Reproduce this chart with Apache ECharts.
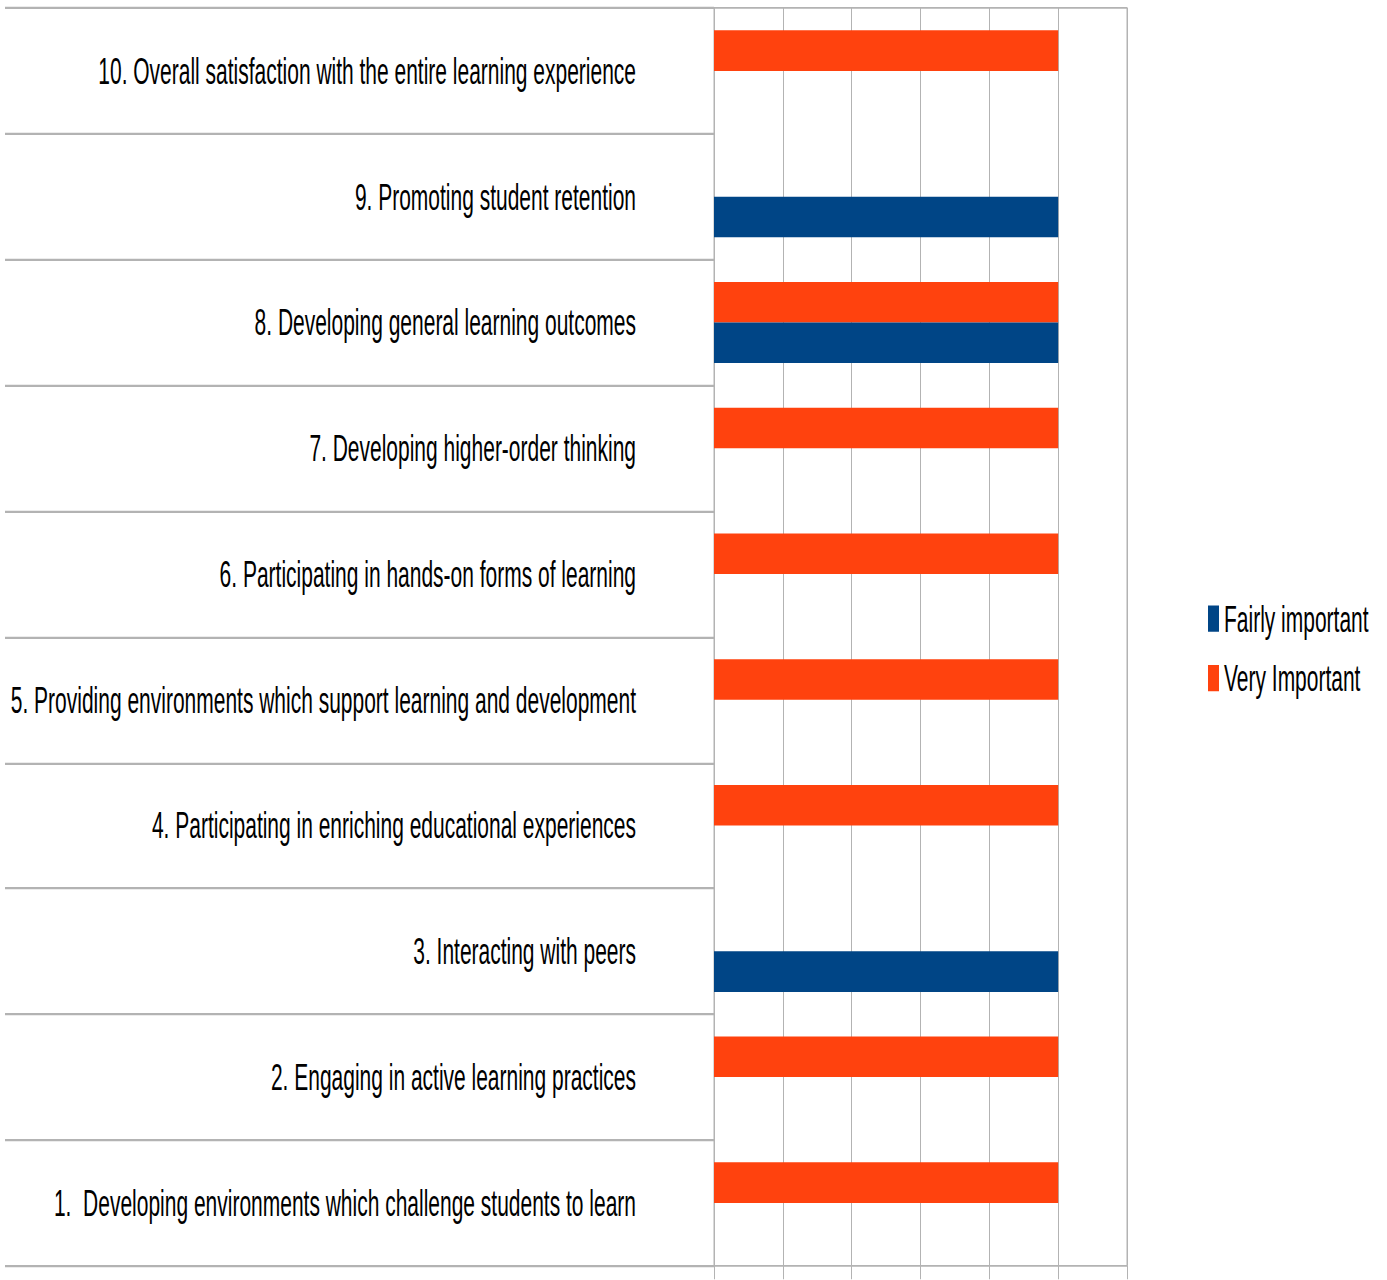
<!DOCTYPE html>
<html>
<head>
<meta charset="utf-8">
<script src="https://cdn.jsdelivr.net/npm/echarts@6/dist/echarts.min.js"></script>
<style>
  html, body { margin: 0; padding: 0; background: #ffffff; overflow: hidden; }
  #wrap { width: 1387px; height: 1280px; overflow: hidden; position: relative; }
  #chart { width: 1387px; height: 731.43px; transform: scale(1, 1.75); transform-origin: 0 0; }
</style>
</head>
<body>
<div id="wrap"><div id="chart"></div></div>
<script>
const categories = [
  '1.  Developing environments which challenge students to learn',
  '2. Engaging in active learning practices',
  '3. Interacting with peers',
  '4. Participating in enriching educational experiences',
  '5. Providing environments which support learning and development',
  '6. Participating in hands-on forms of learning',
  '7. Developing higher-order thinking',
  '8. Developing general learning outcomes',
  '9. Promoting student retention',
  '10. Overall satisfaction with the entire learning experience'
];
const seriesNames = ['Fairly important', 'Very Important'];
const fairlyImportant = [0, 0, 5, 0, 0, 0, 0, 5, 5, 0];
const veryImportant = [5, 5, 0, 5, 5, 5, 5, 5, 0, 5];

const FONT = "'Liberation Sans', Arial, sans-serif";
const GRID = '#b3b3b3';

const chart = echarts.init(document.getElementById('chart'), null, { renderer: 'svg' });
chart.setOption({
  animation: false,
  backgroundColor: '#ffffff',
  textStyle: { fontFamily: FONT },
  legend: {
    orient: 'vertical',
    left: 1203,
    top: 338,
    itemWidth: 11,
    itemHeight: 15,
    itemGap: 13,
    data: seriesNames,
    icon: 'rect',
    textStyle: { fontFamily: FONT, fontSize: 21, lineHeight: 21, color: '#000000' }
  },
  grid: {
    left: 714, right: 260, top: 4.57, bottom: 7.7,
    show: true, borderColor: GRID, borderWidth: 1, backgroundColor: 'transparent'
  },
  xAxis: {
    type: 'value', min: 0, max: 6, interval: 1,
    axisLine: { show: false },
    axisTick: { show: true, length: 9, lineStyle: { color: GRID } },
    axisLabel: { show: false },
    splitLine: { show: true, lineStyle: { color: GRID, width: 1 } }
  },
  yAxis: {
    type: 'category', data: categories,
    axisLine: { show: true, lineStyle: { color: GRID, width: 1 } },
    axisTick: { show: true, length: 709, lineStyle: { color: GRID, width: 1.3 } },
    axisLabel: { margin: 78, fontFamily: FONT, fontSize: 21, color: '#000000' },
    splitLine: { show: false }
  },
  series: [
    { name: seriesNames[1], type: 'bar', data: veryImportant,
      itemStyle: { color: '#ff420e' }, barGap: '0%', barCategoryGap: '35.5%' },
    { name: seriesNames[0], type: 'bar', data: fairlyImportant,
      itemStyle: { color: '#004586' }, barGap: '0%', barCategoryGap: '35.5%' }
  ]
});
</script>
</body>
</html>
